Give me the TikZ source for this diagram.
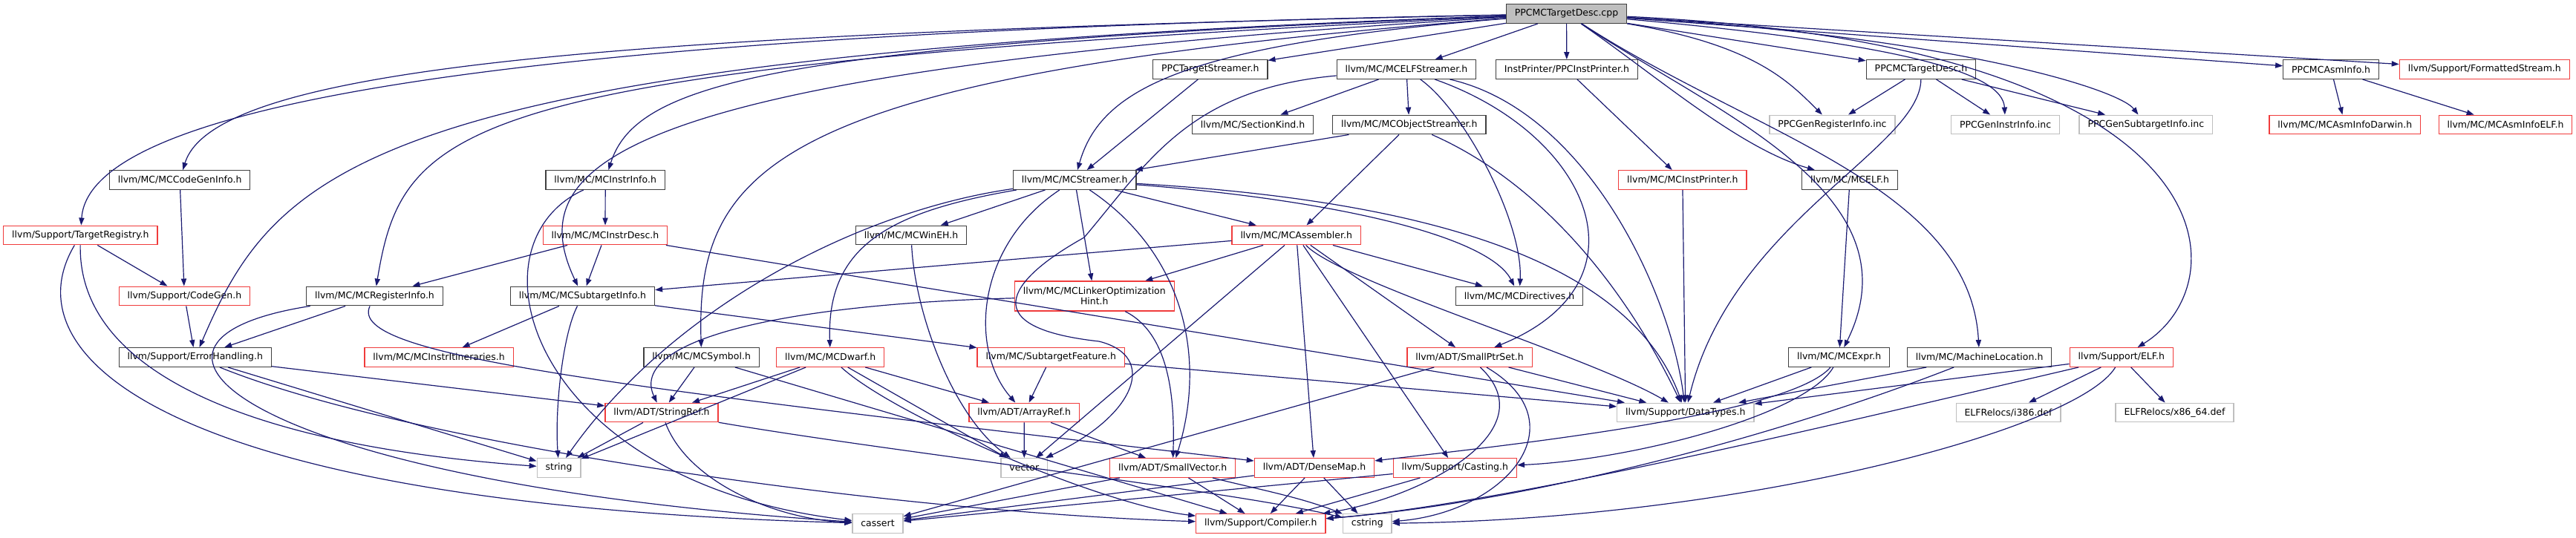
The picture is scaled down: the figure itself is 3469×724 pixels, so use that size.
\documentclass[tikz,border=0pt]{standalone}
\usepackage{fontspec}
\usetikzlibrary{arrows.meta}
\newfontfamily\dv{DejaVu Sans}
\definecolor{edgec}{HTML}{191970}
\definecolor{redb}{HTML}{F03C3C}
\definecolor{grayb}{HTML}{BFBFBF}
\definecolor{blackb}{HTML}{404040}
\tikzset{
  nbase/.style={rectangle, fill=white, line width=0.65pt, inner xsep=5.7pt, inner ysep=0pt,
    minimum height=12.8pt, font=\dv\fontsize{6.25pt}{7.2pt}\selectfont, align=center},
  nb/.style={nbase, draw=blackb},
  nr/.style={nbase, draw=redb},
  ng/.style={nbase, draw=grayb},
  nroot/.style={nbase, draw=blackb, fill=grayb},
  e/.style={draw=edgec, line width=0.6pt, -{Triangle[length=5pt,width=3.6pt]}}
}
\begin{document}
\begin{tikzpicture}[x=0.5pt,y=-0.5pt]
\useasboundingbox (0,0) rectangle (3469,724);
% row 0
\node[nroot] (root) at (2109.5,18.5) {PPCMCTargetDesc.cpp};
% row 1
\node[nb] (TS) at (1629.8,93.5) {PPCTargetStreamer.h};
\node[nb] (ELFS) at (1893.9,93.5) {llvm/MC/MCELFStreamer.h};
\node[nb] (IP) at (2109.9,93.5) {InstPrinter/PPCInstPrinter.h};
\node[nb] (TD) at (2587,93.5) {PPCMCTargetDesc.h};
\node[nb] (AI) at (3139.1,93.5) {PPCMCAsmInfo.h};
\node[nr] (FS) at (3345.8,93.5) {llvm/Support/FormattedStream.h};
% row 2
\node[nb] (SK) at (1687.1,168) {llvm/MC/SectionKind.h};
\node[nb] (OS) at (1897.8,168) {llvm/MC/MCObjectStreamer.h};
\node[ng] (GRI) at (2467.4,168) {PPCGenRegisterInfo.inc};
\node[ng] (GII) at (2700.6,168) {PPCGenInstrInfo.inc};
\node[ng] (GSI) at (2889.8,168) {PPCGenSubtargetInfo.inc};
\node[nr] (DAR) at (3157.8,168) {llvm/MC/MCAsmInfoDarwin.h};
\node[nr] (AELF) at (3374,168) {llvm/MC/MCAsmInfoELF.h};
% row 3
\node[nb] (CGI) at (242.1,242.5) {llvm/MC/MCCodeGenInfo.h};
\node[nb] (II) at (815.2,242.5) {llvm/MC/MCInstrInfo.h};
\node[nb] (STR) at (1447.2,242.5) {llvm/MC/MCStreamer.h};
\node[nr] (MIP) at (2265.8,242.5) {llvm/MC/MCInstPrinter.h};
\node[nb] (MCELF) at (2491.1,242.5) {llvm/MC/MCELF.h};
% row 4
\node[nr] (TR) at (108.4,317) {llvm/Support/TargetRegistry.h};
\node[nr] (IDESC) at (815,317) {llvm/MC/MCInstrDesc.h};
\node[nb] (WINEH) at (1227,317) {llvm/MC/MCWinEH.h};
\node[nr] (ASM) at (1745.7,317) {llvm/MC/MCAssembler.h};
% row 5
\node[nr] (CG) at (248.4,399) {llvm/Support/CodeGen.h};
\node[nb] (RI) at (504.5,399) {llvm/MC/MCRegisterInfo.h};
\node[nb] (STI) at (784.5,399) {llvm/MC/MCSubtargetInfo.h};
\node[nr, minimum height=20pt] (LOH) at (1473.8,399) {llvm/MC/MCLinkerOptimization\\Hint.h};
\node[nb] (DIR) at (2046,399) {llvm/MC/MCDirectives.h};
% row 6
\node[nb] (EH) at (262.8,481.5) {llvm/Support/ErrorHandling.h};
\node[nr] (ITIN) at (591.1,481.5) {llvm/MC/MCInstrItineraries.h};
\node[nb] (SYM) at (944.7,481.5) {llvm/MC/MCSymbol.h};
\node[nr] (DWARF) at (1118.2,481.5) {llvm/MC/MCDwarf.h};
\node[nr] (SF) at (1415.2,481.5) {llvm/MC/SubtargetFeature.h};
\node[nr] (SPS) at (1979.1,481.5) {llvm/ADT/SmallPtrSet.h};
\node[nb] (EXPR) at (2476.6,481.5) {llvm/MC/MCExpr.h};
\node[nb] (ML) at (2665.6,481.5) {llvm/MC/MachineLocation.h};
\node[nr] (ELF) at (2856.8,481.5) {llvm/Support/ELF.h};
% row 7
\node[nr] (SREF) at (891,556) {llvm/ADT/StringRef.h};
\node[nr] (ARR) at (1379.1,556) {llvm/ADT/ArrayRef.h};
\node[ng] (DT) at (2269.8,556) {llvm/Support/DataTypes.h};
\node[ng] (I386) at (2704.5,556) {ELFRelocs/i386.def};
\node[ng] (X86) at (2928.5,556) {ELFRelocs/x86\_64.def};
% row 8
\node[ng] (STRING) at (752.6,630.5) {string};
\node[ng] (VEC) at (1379.3,630.5) {vector};
\node[nr] (SV) at (1579.2,630.5) {llvm/ADT/SmallVector.h};
\node[nr] (DM) at (1770,630.5) {llvm/ADT/DenseMap.h};
\node[nr] (CAST) at (1959.3,630.5) {llvm/Support/Casting.h};
% row 9
\node[ng] (CASSERT) at (1182,705.5) {cassert};
\node[nr] (COMP) at (1697.8,705.5) {llvm/Support/Compiler.h};
\node[ng] (CSTRING) at (1841.3,705.5) {cstring};

% ---- edges from root
\draw[e] (root) .. controls (935,40) and (122,110) .. (TR);
\draw[e] (root) .. controls (824,45) and (289,90) .. (CGI);
\draw[e] (root) .. controls (500,75) and (375,220) .. (EH);
\draw[e] (root) .. controls (620,90) and (544,160) .. (RI);
\draw[e] (root) .. controls (1046,60) and (857,110) .. (II);
\draw[e] (root) .. controls (824,95) and (700,220) .. (STI);
\draw[e] (root) .. controls (1046,100) and (937,220) .. (SYM);
\draw[e] (root) .. controls (1593,60) and (1482,120) .. (STR);
\draw[e] (root) -- (TS);
\draw[e] (root) -- (ELFS);
\draw[e] (root) -- (IP);
\draw[e] (root) -- (TD);
\draw[e] (root) -- (AI);
\draw[e] (root) -- (FS);
\draw[e] (root) .. controls (2362,60) and (2409,110) .. (GRI);
\draw[e] (root) .. controls (2575,60) and (2697,100) .. (GII);
\draw[e] (root) .. controls (2631,50) and (2853,120) .. (GSI);
\draw[e] (root) .. controls (2228,100) and (2342,200) .. (MCELF);
\draw[e] (root) .. controls (2306,150) and (2586,260) .. (EXPR);
\draw[e] (root) .. controls (2358,180) and (2653,250) .. (ML);
\draw[e] (root) .. controls (3010,60) and (3021,380) .. (ELF);
% ---- PPC headers
\draw[e] (TD) -- (GRI);
\draw[e] (TD) -- (GII);
\draw[e] (TD) -- (GSI);
\draw[e] (TD) .. controls (2586,200) and (2331,300) .. (DT);
\draw[e] (IP) -- (MIP);
\draw[e] (MIP) -- (DT);
\draw[e] (AI) -- (DAR);
\draw[e] (AI) -- (AELF);
\draw[e] (TS) -- (STR);
% ---- MCELFStreamer
\draw[e] (ELFS) -- (SK);
\draw[e] (ELFS) -- (OS);
\draw[e] (ELFS) .. controls (1973,150) and (2051,300) .. (DIR);
\draw[e] (ELFS) .. controls (2140,180) and (2229,380) .. (SPS);
\draw[e] (ELFS) .. controls (2140,150) and (2251,400) .. (DT);
\draw[e] (ELFS) .. controls (1600,120) and (1545,220) .. (1460,320)
   .. controls (1370,370) and (1300,440) .. (1480,460)
   .. controls (1560,480) and (1530,560) .. (VEC);
% ---- MCObjectStreamer
\draw[e] (OS) -- (STR);
\draw[e] (OS) -- (ASM);
\draw[e] (OS) .. controls (2084,250) and (2195,400) .. (DT);
% ---- MCStreamer
\draw[e] (STR) .. controls (1150,285) and (900,420) .. (STRING);
\draw[e] (STR) .. controls (1200,285) and (1113,330) .. (DWARF);
\draw[e] (STR) -- (WINEH);
\draw[e] (STR) .. controls (1315,330) and (1304,470) .. (ARR);
\draw[e] (STR) -- (LOH);
\draw[e] (STR) .. controls (1593,340) and (1626,480) .. (SV);
\draw[e] (STR) -- (ASM);
\draw[e] (STR) .. controls (1806,270) and (2006,320) .. (DIR);
\draw[e] (STR) .. controls (1918,270) and (2195,350) .. (DT);
\draw[e] (WINEH) .. controls (1232,420) and (1282,560) .. (VEC);
% ---- MCAssembler
\draw[e] (ASM) -- (STI);
\draw[e] (ASM) -- (LOH);
\draw[e] (ASM) -- (VEC);
\draw[e] (ASM) -- (DM);
\draw[e] (ASM) -- (CAST);
\draw[e] (ASM) -- (SPS);
\draw[e] (ASM) .. controls (1806,380) and (2140,480) .. (DT);
\draw[e] (ASM) -- (DIR);
% ---- others
\draw[e] (LOH) .. controls (1576,450) and (1582,540) .. (SV);
\draw[e] (LOH) .. controls (1046,410) and (846,460) .. (SREF);
\draw[e] (DWARF) -- (SREF);
\draw[e] (DWARF) -- (STRING);
\draw[e] (DWARF) -- (ARR);
\draw[e] (DWARF) -- (VEC);
\draw[e] (DWARF) .. controls (1204,560) and (1482,680) .. (COMP);
\draw[e] (STI) -- (ITIN);
\draw[e] (STI) .. controls (758,450) and (747,550) .. (STRING);
\draw[e] (STI) -- (SF);
\draw[e] (SF) -- (ARR);
\draw[e] (SF) -- (DT);
\draw[e] (ARR) -- (VEC);
\draw[e] (ARR) -- (SV);
\draw[e] (SYM) -- (SREF);
\draw[e] (SYM) -- (COMP);
\draw[e] (II) -- (IDESC);
\draw[e] (II) .. controls (624,330) and (713,650) .. (CASSERT);
\draw[e] (IDESC) -- (RI);
\draw[e] (IDESC) -- (STI);
\draw[e] (IDESC) -- (DT);
\draw[e] (RI) -- (EH);
\draw[e] (RI) .. controls (466,480) and (824,520) .. (DM);
\draw[e] (RI) .. controls (111,460) and (333,650) .. (CASSERT);
\draw[e] (EH) -- (SREF);
\draw[e] (EH) .. controls (555,600) and (1204,690) .. (COMP);
\draw[e] (EH) -- (STRING);
\draw[e] (TR) -- (CG);
\draw[e] (TR) .. controls (105,500) and (333,600) .. (STRING);
\draw[e] (TR) .. controls (11,480) and (222,680) .. (CASSERT);
\draw[e] (CGI) -- (CG);
\draw[e] (CG) -- (EH);
\draw[e] (SREF) -- (STRING);
\draw[e] (SREF) .. controls (926,650) and (1046,700) .. (CASSERT);
\draw[e] (SREF) .. controls (1204,610) and (1653,660) .. (CSTRING);
\draw[e] (SV) -- (CASSERT);
\draw[e] (SV) -- (COMP);
\draw[e] (SV) .. controls (1697,660) and (1751,670) .. (CSTRING);
\draw[e] (DM) -- (CASSERT);
\draw[e] (DM) -- (COMP);
\draw[e] (DM) -- (CSTRING);
\draw[e] (CAST) -- (COMP);
\draw[e] (CAST) -- (CASSERT);
\draw[e] (SPS) -- (CASSERT);
\draw[e] (SPS) .. controls (2084,580) and (1918,670) .. (COMP);
\draw[e] (SPS) -- (DT);
\draw[e] (SPS) .. controls (2129,570) and (2029,690) .. (CSTRING);
\draw[e] (EXPR) -- (DT);
\draw[e] (EXPR) .. controls (2409,560) and (2029,600) .. (DM);
\draw[e] (EXPR) .. controls (2431,560) and (2195,620) .. (CAST);
\draw[e] (ML) -- (DT);
\draw[e] (ML) .. controls (2362,600) and (2029,680) .. (COMP);
\draw[e] (ELF) -- (DT);
\draw[e] (ELF) -- (I386);
\draw[e] (ELF) -- (X86);
\draw[e] (ELF) .. controls (2520,560) and (2029,680) .. (COMP);
\draw[e] (ELF) .. controls (2797,580) and (2340,700) .. (CSTRING);
\draw[e] (MCELF) -- (EXPR);
\end{tikzpicture}
\end{document}
